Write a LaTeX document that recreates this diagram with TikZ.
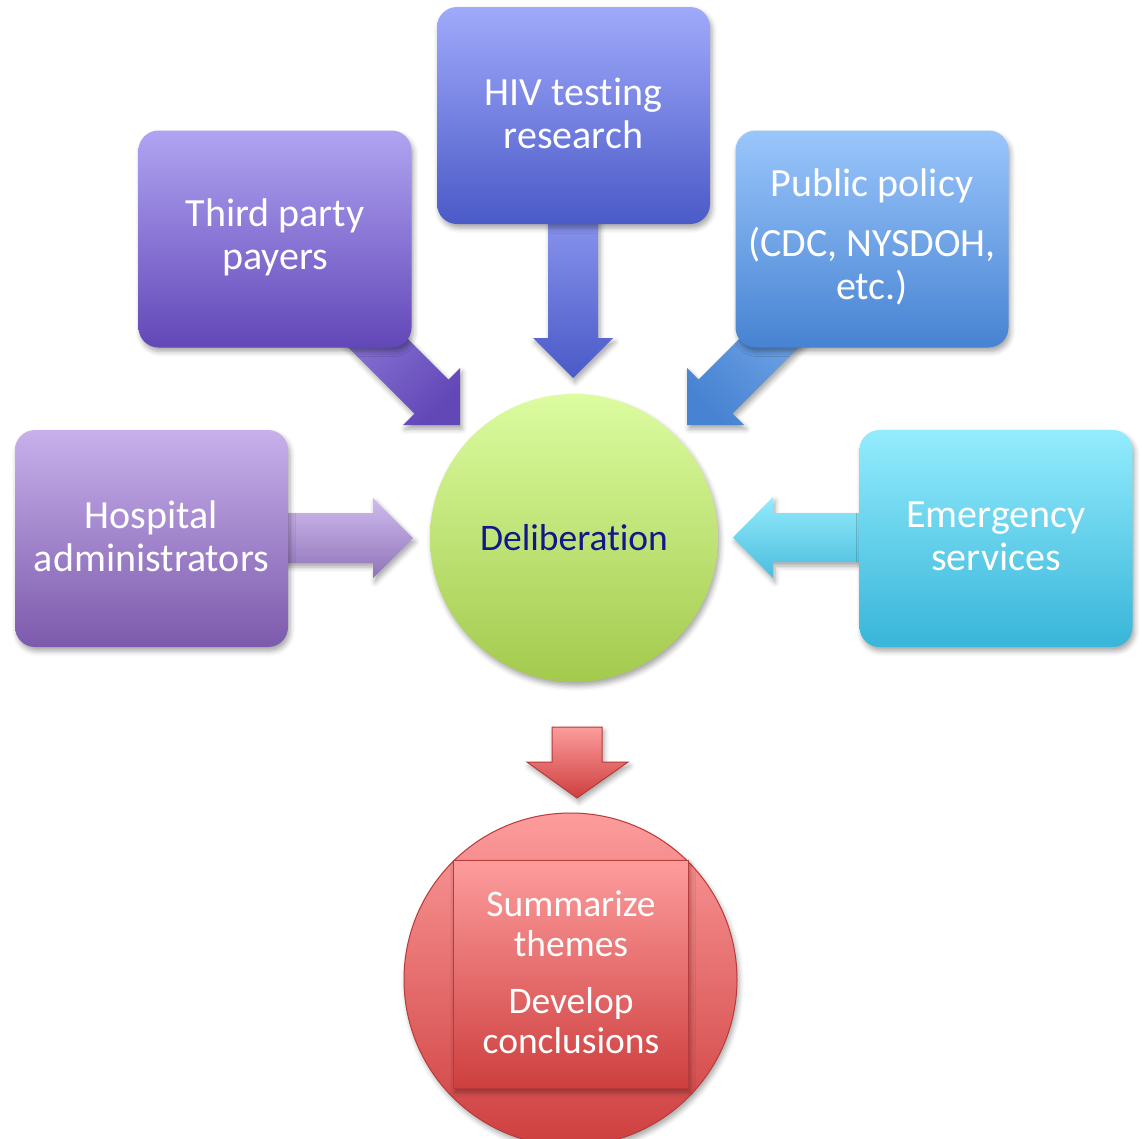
\documentclass[tikz,border=0pt]{standalone}
\usepackage{fontspec}
\setmainfont{Carlito}[Ligatures={NoCommon}]
\usetikzlibrary{shadows.blur}
\definecolor{hospT}{HTML}{C7B0EB}\definecolor{hospB}{HTML}{7C5AAC}
\definecolor{thirdT}{HTML}{B0A4F2}\definecolor{thirdB}{HTML}{6247B7}
\definecolor{hivT}{HTML}{A0AAFB}\definecolor{hivB}{HTML}{4A5AC7}
\definecolor{pubT}{HTML}{9AC6FB}\definecolor{pubB}{HTML}{4783D2}
\definecolor{emT}{HTML}{93ECFD}\definecolor{emB}{HTML}{38B5D9}
\definecolor{delT}{HTML}{DCFCA0}\definecolor{delB}{HTML}{A3CA4D}
\definecolor{redT}{HTML}{FD9C9C}\definecolor{redB}{HTML}{CE3F3F}
\definecolor{redLine}{HTML}{B83A3A}
\definecolor{navytext}{HTML}{10188A}
\tikzset{
  shad/.style={blur shadow={shadow xshift=2pt,shadow yshift=-4pt,shadow blur radius=5pt,shadow opacity=35}},
  srcbox/.style={rectangle,rounded corners=20pt,minimum width=273pt,minimum height=217pt,shad},
  srctext/.style={text=white,align=center,font=\fontsize{40}{43}\selectfont},
  hub/.style={circle,minimum size=288pt,inner sep=0pt,shad},
}
\begin{document}
\begin{tikzpicture}[x=1pt,y=-1pt]
\useasboundingbox (0,0) rectangle (1142,1138);
% ---- arrows (drawn beneath the boxes) ----
% Hospital -> Deliberation
\shade[top color=hospT!85!white,bottom color=hospB!85!white,shad]
  (270,513) -- (373,513) -- (373,498) -- (413,538) -- (373,578) -- (373,563) -- (270,563) -- cycle;
% Emergency -> Deliberation
\shade[top color=emT,bottom color=emB!90!white,shad]
  (880,513) -- (773,513) -- (773,497) -- (733,537.5) -- (773,578) -- (773,562) -- (880,562) -- cycle;
% HIV -> Deliberation
\shade[top color=hivT!80!hivB,bottom color=hivB,shad]
  (548,200) -- (598,200) -- (598,338) -- (613,338) -- (573,378) -- (533,338) -- (548,338) -- cycle;
% Third party -> Deliberation
\shade[top color=thirdT!55!thirdB,bottom color=thirdB,shading angle=45,shad]
  (367,298) -- (448.5,379.5) -- (460,368) -- (460,425) -- (403,425) -- (414.5,413.5) -- (333,332) -- cycle;
% Public policy -> Deliberation
\shade[top color=pubT!55!pubB,bottom color=pubB,shading angle=-45,shad]
  (780,298) -- (698.5,379.5) -- (687,368) -- (687,425) -- (744,425) -- (732.5,413.5) -- (814,332) -- cycle;
% Deliberation -> summary
\shade[top color=redT,bottom color=redB,draw=redLine,line width=1pt,shad]
  (552,727) -- (602,727) -- (602,762) -- (628,762) -- (577,798) -- (527,762) -- (552,762) -- cycle;

% ---- source boxes ----
\node[srcbox,top color=hospT,bottom color=hospB] (hosp) at (151.5,538.5) {};
\node[srcbox,top color=thirdT,bottom color=thirdB] (third) at (275,239) {};
\node[srcbox,top color=hivT,bottom color=hivB] (hiv) at (573.5,115.5) {};
\node[srcbox,top color=pubT,bottom color=pubB] (pub) at (872,239) {};
\node[srcbox,top color=emT,bottom color=emB] (emerg) at (996,538.5) {};
\node[srctext] (hospT) at ([yshift=2.5pt]hosp.center) {Hospital\\administrators};
\node[srctext] (thirdT) at ([yshift=2pt]third.center) {Third party\\payers};
\node[srctext] (hivT) at ([yshift=2.5pt]hiv.center) {HIV testing\\research};
\node[srctext] (pubT) at ([yshift=2pt]pub.center) {Public policy\\[17pt](CDC, NYSDOH,\\etc.)};
\node[srctext] (emergT) at ([yshift=2.5pt]emerg.center) {Emergency\\services};

% ---- hub ----
\node[hub,top color=delT,bottom color=delB,text=navytext,font=\fontsize{37.5}{40}\selectfont] (delib) at (574,538) {Deliberation};

% ---- outcome ----
\node[circle,minimum size=333pt,inner sep=0pt,top color=redT,bottom color=redB,draw=redLine,line width=1pt,shad] (out) at (570.5,979.5) {};
\node[rectangle,minimum width=235pt,minimum height=228pt,top color=redT,bottom color=redB,draw=redLine,line width=1pt,shad] (outbox) at (570.5,974) {};
\node[text=white,align=center,font=\fontsize{37.5}{40}\selectfont] (outtext) at (571,972) {Summarize\\themes\\[17pt]Develop\\conclusions};
\end{tikzpicture}
\end{document}
